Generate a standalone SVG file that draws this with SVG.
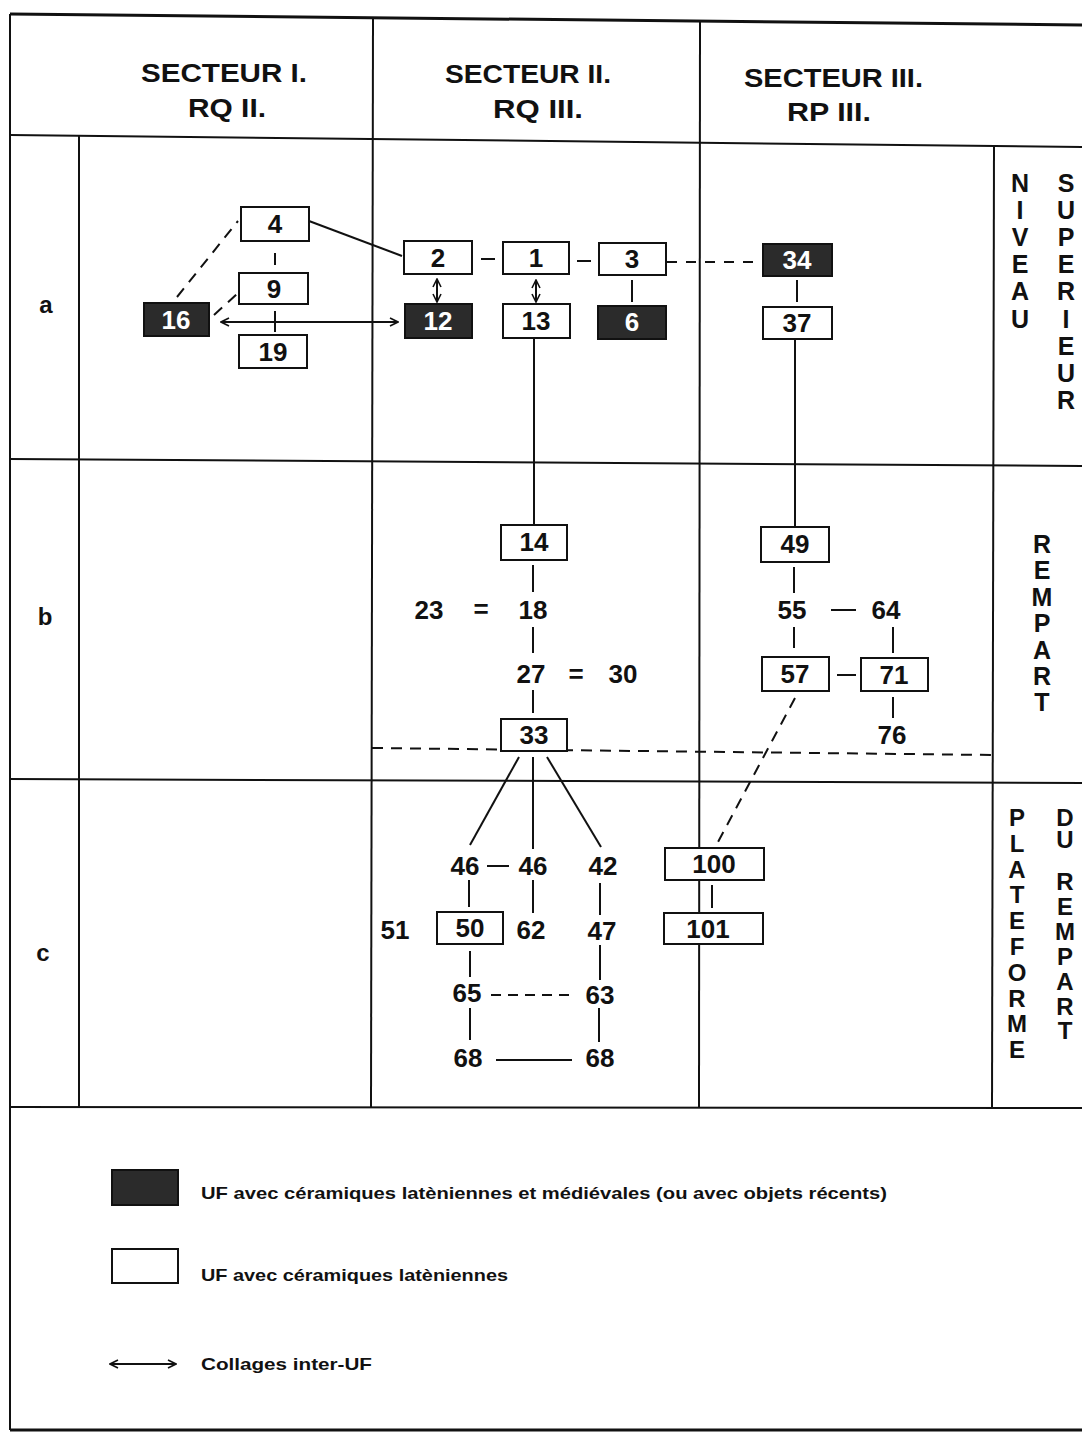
<svg xmlns="http://www.w3.org/2000/svg" width="1082" height="1434" viewBox="0 0 1082 1434">
<defs>
<style>
.grid{stroke:#111;stroke-width:2;fill:none}
.ln{stroke:#111;stroke-width:2;fill:none}
.ds{stroke:#111;stroke-width:2;fill:none;stroke-dasharray:11 8}
.bx{fill:#fff;stroke:#111;stroke-width:2}
.dk{fill:#2b2b2b;stroke:#111;stroke-width:2}
.n{font-family:"Liberation Sans",Arial,sans-serif;font-weight:bold;font-size:26px;text-anchor:middle;fill:#111}
.nw{font-family:"Liberation Sans",Arial,sans-serif;font-weight:bold;font-size:26px;text-anchor:middle;fill:#fff}
.h{font-family:"Liberation Sans",Arial,sans-serif;font-weight:bold;font-size:26px;fill:#111}
.r{font-family:"Liberation Sans",Arial,sans-serif;font-weight:bold;font-size:24px;text-anchor:middle;fill:#111}
.v{font-family:"Liberation Sans",Arial,sans-serif;font-weight:bold;font-size:25px;fill:#111;writing-mode:vertical-rl;text-orientation:upright}
.lg{font-family:"Liberation Sans",Arial,sans-serif;font-weight:bold;font-size:17px;fill:#111}
</style>
<marker id="ah" viewBox="0 0 10 10" refX="9" refY="5" markerWidth="5" markerHeight="5" orient="auto-start-reverse" markerUnits="strokeWidth">
<path d="M1,1 L9,5 L1,9" fill="none" stroke="#111" stroke-width="1.6"/>
</marker>
</defs>
<rect width="1082" height="1434" fill="#fff"/>
<g id="grid">
<line class="grid" x1="10" y1="14" x2="1082" y2="25" style="stroke-width:3"/>
<line class="grid" x1="10" y1="14" x2="10" y2="1430"/>
<line class="grid" x1="10" y1="135" x2="1082" y2="147"/>
<line class="grid" x1="10" y1="459" x2="1082" y2="466"/>
<line class="grid" x1="10" y1="779" x2="1082" y2="783"/>
<line class="grid" x1="10" y1="1107" x2="1082" y2="1108"/>
<line class="grid" x1="10" y1="1430" x2="1082" y2="1430" style="stroke-width:3"/>
<line class="grid" x1="79" y1="135" x2="79" y2="1107"/>
<line class="grid" x1="373" y1="18" x2="371" y2="1107"/>
<line class="grid" x1="700" y1="21" x2="699" y2="1107"/>
<line class="grid" x1="994" y1="146" x2="992" y2="1108"/>
</g>
<g id="headers">
<text class="h" x="141" y="82" textLength="166" lengthAdjust="spacingAndGlyphs">SECTEUR I.</text>
<text class="h" x="188" y="117" textLength="78" lengthAdjust="spacingAndGlyphs">RQ II.</text>
<text class="h" x="445" y="83" textLength="166" lengthAdjust="spacingAndGlyphs">SECTEUR II.</text>
<text class="h" x="493" y="118" textLength="90" lengthAdjust="spacingAndGlyphs">RQ III.</text>
<text class="h" x="744" y="87" textLength="179" lengthAdjust="spacingAndGlyphs">SECTEUR III.</text>
<text class="h" x="787" y="121" textLength="84" lengthAdjust="spacingAndGlyphs">RP III.</text>
</g>
<g id="rowlabels">
<text class="r" x="46" y="313">a</text>
<text class="r" x="45" y="625">b</text>
<text class="r" x="43" y="961">c</text>
</g>
<g id="sidelabels">
<text class="v" x="1020" y="169" style="letter-spacing:-0.9px">NIVEAU</text>
<text class="v" x="1066" y="169" style="letter-spacing:-0.9px">SUPERIEUR</text>
<text class="v" x="1042" y="530" style="letter-spacing:-1.6px">REMPART</text>
<text class="v" x="1017" y="804" style="font-size:24px;letter-spacing:-1.2px">PLATEFORME</text>
<text class="v" x="1065" y="804" style="font-size:24px;letter-spacing:-4.8px">DU</text>
<text class="v" x="1065" y="868" style="font-size:24px;letter-spacing:-2.1px">REMPART</text>
</g>
<g id="connectors">
<line class="ds" x1="372" y1="748" x2="993" y2="755"/>
<line class="ln" x1="309" y1="221" x2="402" y2="256"/>
<line class="ln" x1="275" y1="253" x2="275" y2="265"/>
<line class="ln" x1="275" y1="311" x2="275" y2="332"/>
<line class="ds" x1="177" y1="297" x2="238" y2="221"/>
<line class="ds" x1="214" y1="315" x2="238" y2="293"/>
<line class="ln" x1="221" y1="322" x2="398" y2="322" marker-start="url(#ah)" marker-end="url(#ah)"/>
<line class="ln" x1="481" y1="259" x2="495" y2="259"/>
<line class="ln" x1="577" y1="261" x2="591" y2="261"/>
<line class="ds" x1="667" y1="262" x2="760" y2="262" style="stroke-dasharray:10 9"/>
<line class="ln" x1="437" y1="279" x2="437" y2="302" marker-start="url(#ah)" marker-end="url(#ah)"/>
<line class="ln" x1="536" y1="280" x2="536" y2="302" marker-start="url(#ah)" marker-end="url(#ah)"/>
<line class="ln" x1="632" y1="280" x2="632" y2="302"/>
<line class="ln" x1="797" y1="280" x2="797" y2="302"/>
<line class="ln" x1="534" y1="338" x2="534" y2="525"/>
<line class="ln" x1="795" y1="339" x2="795" y2="527"/>
<line class="ln" x1="533" y1="565" x2="533" y2="592"/>
<line class="ln" x1="533" y1="627" x2="533" y2="653"/>
<line class="ln" x1="533" y1="690" x2="533" y2="713"/>
<line class="ln" x1="794" y1="567" x2="794" y2="593"/>
<line class="ln" x1="794" y1="627" x2="794" y2="648"/>
<line class="ln" x1="831" y1="610" x2="856" y2="610"/>
<line class="ln" x1="893" y1="627" x2="893" y2="653"/>
<line class="ln" x1="837" y1="675" x2="856" y2="675"/>
<line class="ln" x1="893" y1="697" x2="893" y2="718"/>
<line class="ds" x1="795" y1="698" x2="718" y2="842"/>
<line class="ln" x1="519" y1="757" x2="470" y2="845"/>
<line class="ln" x1="533" y1="757" x2="533" y2="849"/>
<line class="ln" x1="547" y1="757" x2="601" y2="847"/>
<line class="ln" x1="487" y1="866" x2="509" y2="866"/>
<line class="ln" x1="469" y1="880" x2="469" y2="907"/>
<line class="ln" x1="533" y1="880" x2="533" y2="913"/>
<line class="ln" x1="600" y1="883" x2="600" y2="915"/>
<line class="ln" x1="712" y1="885" x2="712" y2="908"/>
<line class="ln" x1="470" y1="951" x2="470" y2="977"/>
<line class="ln" x1="600" y1="945" x2="600" y2="980"/>
<line class="ds" x1="491" y1="995" x2="575" y2="995" style="stroke-dasharray:10 7"/>
<line class="ln" x1="470" y1="1008" x2="470" y2="1040"/>
<line class="ln" x1="599" y1="1008" x2="599" y2="1042"/>
<line class="ln" x1="496" y1="1060" x2="572" y2="1060"/>
</g>
<g id="n4"><rect class="bx" x="241" y="207" width="68" height="34"/><text class="n" x="275" y="233">4</text></g>
<g id="n9"><rect class="bx" x="239" y="273" width="69" height="31"/><text class="n" x="274" y="298">9</text></g>
<g id="n19"><rect class="bx" x="239" y="335" width="68" height="33"/><text class="n" x="273" y="361">19</text></g>
<g id="n16"><rect class="dk" x="144" y="303" width="65" height="33"/><text class="nw" x="176" y="329">16</text></g>
<g id="n2"><rect class="bx" x="404" y="241" width="68" height="33"/><text class="n" x="438" y="267">2</text></g>
<g id="n1"><rect class="bx" x="503" y="242" width="66" height="32"/><text class="n" x="536" y="267">1</text></g>
<g id="n3"><rect class="bx" x="599" y="243" width="67" height="32"/><text class="n" x="632" y="268">3</text></g>
<g id="n34"><rect class="dk" x="763" y="244" width="69" height="32"/><text class="nw" x="797" y="269">34</text></g>
<g id="n12"><rect class="dk" x="405" y="304" width="67" height="34"/><text class="nw" x="438" y="330">12</text></g>
<g id="n13"><rect class="bx" x="503" y="304" width="67" height="34"/><text class="n" x="536" y="330">13</text></g>
<g id="n6"><rect class="dk" x="598" y="306" width="68" height="33"/><text class="nw" x="632" y="331">6</text></g>
<g id="n37"><rect class="bx" x="763" y="307" width="69" height="32"/><text class="n" x="797" y="332">37</text></g>
<g id="n14"><rect class="bx" x="501" y="525" width="66" height="35"/><text class="n" x="534" y="551">14</text></g>
<g id="n49"><rect class="bx" x="761" y="527" width="68" height="35"/><text class="n" x="795" y="553">49</text></g>
<g id="n23"><text class="n" x="429" y="619">23</text></g>
<g id="eq1"><text class="n" x="481" y="618">=</text></g>
<g id="n18"><text class="n" x="533" y="619">18</text></g>
<g id="n27"><text class="n" x="531" y="683">27</text></g>
<g id="eq2"><text class="n" x="576" y="683">=</text></g>
<g id="n30"><text class="n" x="623" y="683">30</text></g>
<g id="n55"><text class="n" x="792" y="619">55</text></g>
<g id="n64"><text class="n" x="886" y="619">64</text></g>
<g id="n57"><rect class="bx" x="762" y="657" width="67" height="34"/><text class="n" x="795" y="683">57</text></g>
<g id="n71"><rect class="bx" x="861" y="658" width="67" height="33"/><text class="n" x="894" y="684">71</text></g>
<g id="n76"><text class="n" x="892" y="744">76</text></g>
<g id="n33"><rect class="bx" x="501" y="719" width="66" height="32"/><text class="n" x="534" y="744">33</text></g>
<g id="n46a"><text class="n" x="465" y="875">46</text></g>
<g id="n46b"><text class="n" x="533" y="875">46</text></g>
<g id="n42"><text class="n" x="603" y="875">42</text></g>
<g id="n100"><rect class="bx" x="665" y="848" width="99" height="32"/><text class="n" x="714" y="873">100</text></g>
<g id="n101"><rect class="bx" x="664" y="913" width="99" height="31"/><text class="n" x="708" y="938">101</text></g>
<g id="n51"><text class="n" x="395" y="939">51</text></g>
<g id="n50"><rect class="bx" x="437" y="912" width="66" height="32"/><text class="n" x="470" y="937">50</text></g>
<g id="n62"><text class="n" x="531" y="939">62</text></g>
<g id="n47"><text class="n" x="602" y="940">47</text></g>
<g id="n65"><text class="n" x="467" y="1002">65</text></g>
<g id="n63"><text class="n" x="600" y="1004">63</text></g>
<g id="n68a"><text class="n" x="468" y="1067">68</text></g>
<g id="n68b"><text class="n" x="600" y="1067">68</text></g>
<g id="legend">
<rect class="dk" x="112" y="1170" width="66" height="35"/>
<text class="lg" x="201" y="1199" textLength="686" lengthAdjust="spacingAndGlyphs">UF avec céramiques latèniennes et médiévales (ou avec objets récents)</text>
<rect class="bx" x="112" y="1249" width="66" height="34"/>
<text class="lg" x="201" y="1281" textLength="307" lengthAdjust="spacingAndGlyphs">UF avec céramiques latèniennes</text>
<line class="ln" x1="110" y1="1364" x2="176" y2="1364" marker-start="url(#ah)" marker-end="url(#ah)"/>
<text class="lg" x="201" y="1370" textLength="171" lengthAdjust="spacingAndGlyphs">Collages inter-UF</text>
</g>
</svg>
